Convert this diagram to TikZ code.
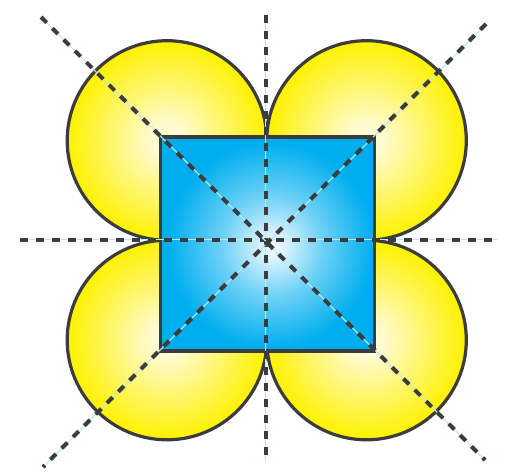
\documentclass[tikz,border=0pt]{standalone}
\usetikzlibrary{shadings}
\definecolor{sqblue}{HTML}{00AEEF}
\definecolor{yel}{HTML}{FFF100}
\definecolor{yelc}{HTML}{FFFBD2}
\definecolor{outl}{HTML}{3C3C3C}
\definecolor{guide}{HTML}{B8EAFA}
\pgfdeclareradialshading{sqshade}{\pgfpoint{1.4bp}{-0.6bp}}{color(0bp)=(white!96!sqblue); color(4bp)=(white!80!sqblue); color(12bp)=(white!42!sqblue); color(24bp)=(sqblue); color(50bp)=(sqblue)}
\pgfdeclareradialshading{cshade}{\pgfpoint{0bp}{0bp}}{color(0bp)=(yelc); color(4bp)=(yelc); color(25bp)=(yel); color(50bp)=(yel)}
\tikzset{
  petal/.style={shading=cshade, draw=outl, line width=2.4},
  sq/.style={shading=sqshade, draw=outl, line width=2.6, line join=miter},
  guideline/.style={draw=guide, line width=0.8},
  dashline/.style={draw=outl, line width=3, dash pattern=on 6 off 6}
}
\begin{document}
\begin{tikzpicture}[x=0.75pt,y=-0.75pt]
\useasboundingbox (0,0) rectangle (506,475);
% centres of petals
\coordinate (c1) at (167,140.5);
\coordinate (c2) at (366.5,140.5);
\coordinate (c3) at (167,340);
\coordinate (c4) at (366.5,340);
\path[petal] (c1) circle[radius=99.8];
\path[petal] (c2) circle[radius=99.8];
\path[petal] (c3) circle[radius=99.8];
\path[petal] (c4) circle[radius=99.8];
\node[sq, minimum width=214*0.75pt, minimum height=214*0.75pt, inner sep=0pt, outer sep=0pt] (sqr) at (267.3,244) {};
% guide lines
\coordinate (v1) at (265.7,15);
\coordinate (v2) at (265.7,462);
\coordinate (h1) at (20,239.5);
\coordinate (h2) at (497,239.5);
\coordinate (d1) at (41,17);
\coordinate (d2) at (485,460);
\coordinate (e1) at (486,24);
\coordinate (e2) at (43,467);
\foreach \a/\b in {v1/v2,h1/h2,d1/d2,e1/e2}{
  \draw[guideline] (\a) -- (\b);
  \draw[dashline] (\a) -- (\b);
}
\end{tikzpicture}
\end{document}
